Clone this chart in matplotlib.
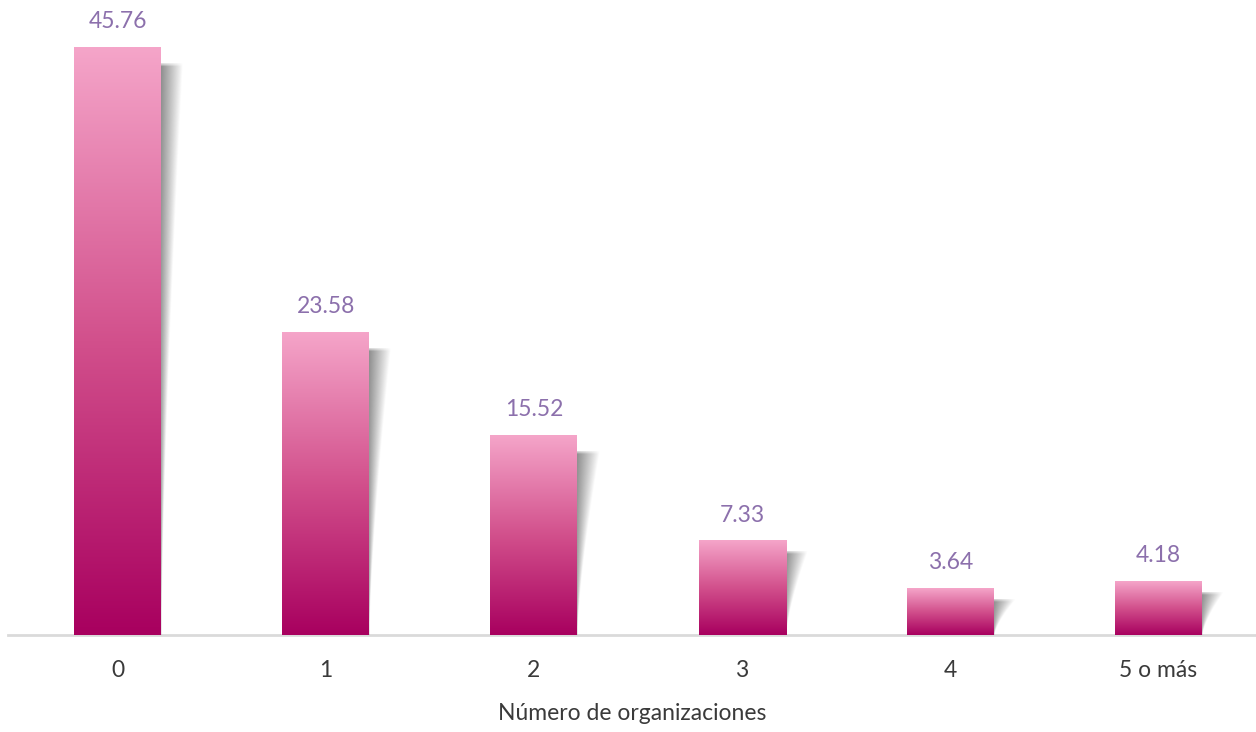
import matplotlib
matplotlib.use('Agg')
import matplotlib.pyplot as plt
import numpy as np
from matplotlib.colors import LinearSegmentedColormap

categories = ["0", "1", "2", "3", "4", "5 o más"]
values = [45.76, 23.58, 15.52, 7.33, 3.64, 4.18]
xlabel = "Número de organizaciones"

plt.rcParams['font.family'] = ['Lato', 'DejaVu Sans']

W, H = 1256, 732
fig = plt.figure(figsize=(W / 100, H / 100), dpi=100)
ax = fig.add_axes([8 / W, 1 - 635 / H, 1 - 8 / W, 635 / H])

spacing = 208.1
x0 = 117.8 - 8
xlim = (-x0 / spacing, (W - 8 - x0) / spacing)
ymax = 635 / 12.83

bar_w = 87 / spacing
cmap = LinearSegmentedColormap.from_list("pink", ["#a8005f", "#d2508c", "#f5a5c9"])
grad = np.linspace(0, 1, 256).reshape(-1, 1)

px_y = ymax / 635  # data units per pixel (y)
px_x = 1 / spacing

x = np.arange(len(values))
for xi, v in zip(x, values):
    left, right = xi - bar_w / 2, xi + bar_w / 2
    # soft shadow on the right side of the bar
    off = (16 if v > 10 else 11) * px_y
    top_s = v - off
    sw = 22 * px_x
    ny, nx = 400, 80
    t = np.linspace(1, 0, ny).reshape(-1, 1)      # row 0 = bottom (t=1), last row = top (t=0)
    d = np.linspace(0, 1, nx).reshape(1, -1)      # distance from bar edge
    wt = (1 - t) ** 1.4
    a = np.clip(1 - d / np.maximum(wt, 1e-6), 0, 1) ** 0.9
    a = a * (1 - 0.25 * t)
    dist_top = t * top_s / px_y
    a = a * np.clip(dist_top / 4 + 0.3, 0, 1)
    img = np.zeros((ny, nx, 4))
    img[..., :3] = 0.45
    img[..., 3] = 0.8 * a
    ax.imshow(img, extent=[right, right + sw, 0, top_s], origin='lower',
              aspect='auto', interpolation='bilinear', zorder=1)
    # bar with vertical gradient
    ax.imshow(grad, extent=[left, right, 0, v], origin='lower', cmap=cmap,
              aspect='auto', interpolation='bilinear', zorder=2)
    ax.annotate(f"{v:.2f}", (xi, v), xytext=(0, 14), textcoords='offset points',
                ha='center', va='baseline', fontsize=16.5, color='#8c70ac')

ax.set_xlim(*xlim)
ax.set_ylim(0, ymax)

for s in ['top', 'right', 'left']:
    ax.spines[s].set_visible(False)
ax.spines['bottom'].set_color('#dadada')
ax.spines['bottom'].set_linewidth(2.0)
ax.spines['bottom'].set_zorder(0)
ax.set_yticks([])
ax.set_xticks(x)
ax.set_xticklabels(categories, fontsize=16.5, color='#3a3a3a')
ax.tick_params(axis='x', length=0, pad=18)
ax.set_xlabel(xlabel, fontsize=16.5, color='#3a3a3a', labelpad=16)

fig.savefig("out.png", dpi=100)
